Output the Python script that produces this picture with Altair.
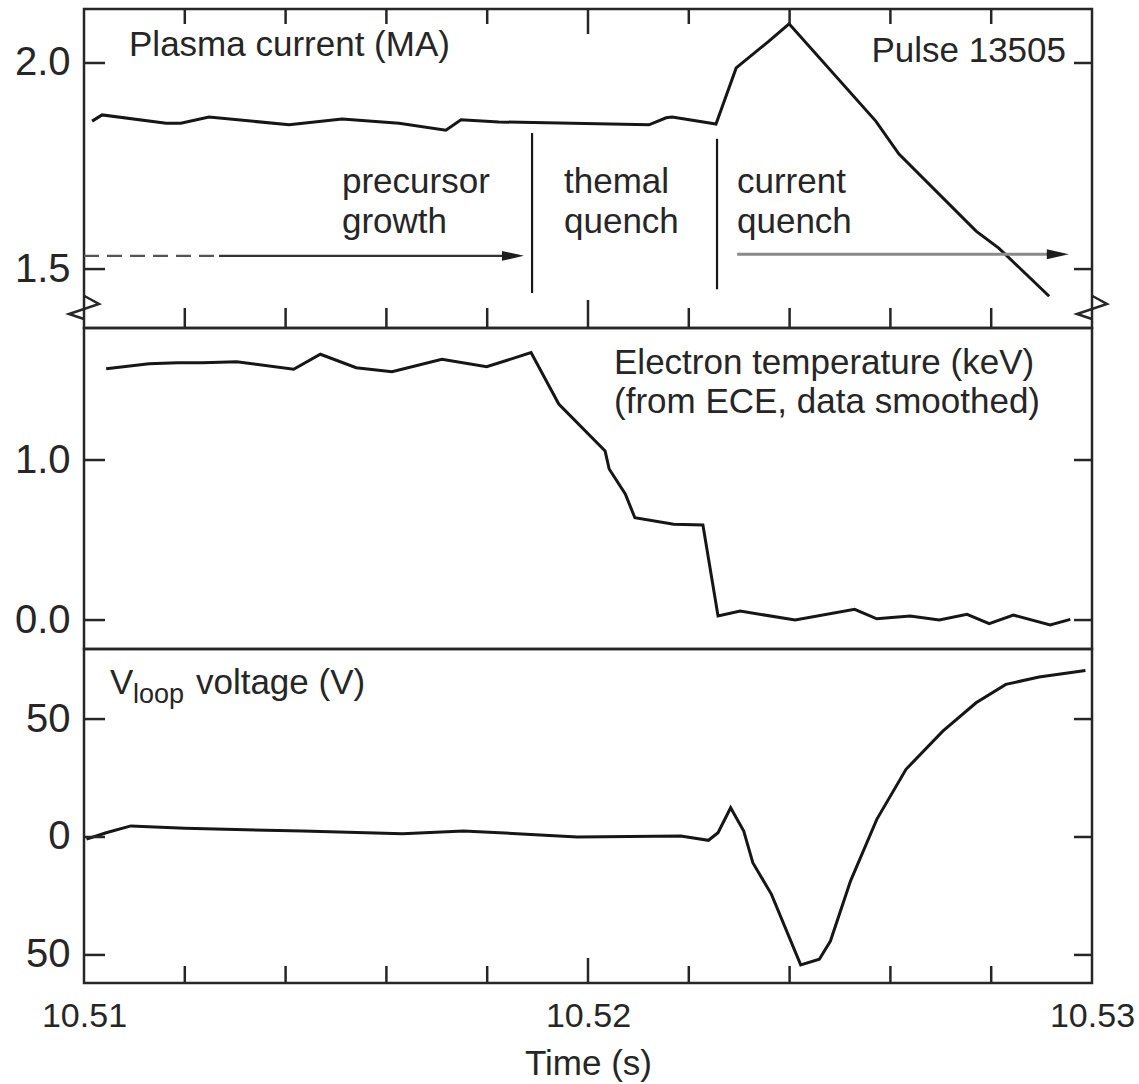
import altair as alt
import pandas as pd

# ---------------- data ----------------
# Plasma current (MA)
ip_time = [10.51016, 10.51036, 10.51163, 10.51192, 10.51248, 10.51407, 10.51512,
           10.51625, 10.51718, 10.51748, 10.51823, 10.52121, 10.52155, 10.52167,
           10.52254, 10.52294, 10.52359, 10.52399, 10.52571, 10.52617, 10.52770,
           10.52815, 10.52915]
ip_value = [1.859, 1.874, 1.854, 1.854, 1.869, 1.850, 1.864,
            1.854, 1.837, 1.862, 1.857, 1.850, 1.867, 1.869,
            1.852, 1.988, 2.053, 2.095, 1.859, 1.779, 1.592,
            1.551, 1.434]

# Electron temperature (keV)
te_time = [10.51044, 10.51129, 10.51186, 10.51235, 10.51303, 10.51416, 10.51469,
           10.51540, 10.51611, 10.51710, 10.51799, 10.51887, 10.51942, 10.52034,
           10.52042, 10.52074, 10.52093, 10.52170, 10.52228, 10.52258, 10.52302,
           10.52411, 10.52529, 10.52573, 10.52639, 10.52697, 10.52752, 10.52796,
           10.52844, 10.52917, 10.52957]
te_value = [1.571, 1.602, 1.608, 1.608, 1.614, 1.567, 1.661,
            1.577, 1.552, 1.629, 1.583, 1.671, 1.35, 1.056,
            0.944, 0.788, 0.639, 0.598, 0.594, 0.025, 0.056,
            0.0, 0.067, 0.008, 0.025, 0.0, 0.036, -0.023,
            0.031, -0.031, 0.004]

# V_loop voltage (V)
vl_time = [10.51005, 10.51044, 10.51093, 10.51200, 10.51434, 10.51632, 10.51753,
           10.51859, 10.51942, 10.51979, 10.52184, 10.52239, 10.52258, 10.52283,
           10.52309, 10.52327, 10.52364, 10.52422, 10.52459, 10.52481, 10.52521,
           10.52573, 10.52631, 10.52704, 10.52770, 10.52829, 10.52895, 10.52987]
vl_value = [-0.9, 1.8, 4.7, 3.7, 2.5, 1.4, 2.5,
            1.4, 0.4, 0.0, 0.4, -1.4, 1.8, 12.4,
            2.5, -10.9, -24.3, -54.2, -51.8, -44.1, -18.6,
            7.5, 28.7, 44.9, 56.9, 64.7, 67.8, 70.6]

# axes
x_domain = [10.51, 10.53]
x_label_values = [10.51, 10.52, 10.53]
x_minor_ticks = [10.512, 10.514, 10.516, 10.518, 10.522, 10.524, 10.526, 10.528]
x_major_ticks = [10.52]
ip_domain = [1.357, 2.131]
ip_ticks = [1.5, 2.0]
te_domain = [-0.181, 1.825]
te_ticks = [0.0, 1.0]
vl_domain = [-61.9, 79.7]
vl_ticks = [-50, 0, 50]

# phase markers / arrows in panel 1
phase_time = [10.51889, 10.52256]
phase_top = [1.830, 1.816]
phase_bottom = [1.442, 1.451]
arrow_dash_start, arrow_dash_end = 10.51, 10.51268
arrow1_end, arrow1_tip, arrow1_level = 10.51863, 10.51873, 1.532
arrow2_start, arrow2_end, arrow2_tip, arrow2_level = 10.52296, 10.52939, 10.52954, 1.536
break_level = 1.408

# annotation texts
p1_labels = ["Plasma current (MA)", "precursor", "growth", "themal", "quench", "current", "quench"]
p1_label_t = [10.510893, 10.515119, 10.515119, 10.519524, 10.519524, 10.522956, 10.522956]
p1_label_v = [2.017, 1.6845, 1.5874, 1.6845, 1.5874, 1.6845, 1.5874]
pulse_label, pulse_t, pulse_v = "Pulse 13505", 10.529484, 2.002
p2_labels = ["Electron temperature (keV)", "(from ECE, data smoothed)"]
p2_label_t = [10.520516, 10.520516]
p2_label_v = [1.5375, 1.294]
p3_big_labels = ["V", "voltage (V)"]
p3_big_t = [10.510516, 10.512221]
p3_big_v = [60.6, 60.6]
p3_sub_label, p3_sub_t, p3_sub_v = "loop", 10.510972, 56.8

# ---------------- styling ----------------
W = 1008
H1, H2, H3 = 319, 321, 334
FONT = "Liberation Sans"
INK = "#262626"
LINE = "#161616"

x_scale = alt.Scale(domain=x_domain, nice=False, zero=False)


def y_axis(values, fmt=None, expr=None):
    kw = dict(values=values, ticks=False, domain=False, grid=False, title=None,
              labelFont=FONT, labelFontSize=40, labelColor=INK, labelPadding=14,
              minExtent=82, maxExtent=82)
    if fmt:
        kw["format"] = fmt
    if expr:
        kw["labelExpr"] = expr
    return alt.Axis(**kw)


def tick_layers(xe, ye, yticks, height, top=None, bottom=None):
    """Inward ticks drawn through the scales."""
    layers = []
    ydf = pd.DataFrame({"v": yticks})
    layers.append(alt.Chart(ydf).mark_rule(color=INK, strokeWidth=2.5).encode(
        y=ye, x=alt.value(0), x2=alt.value(21)))
    layers.append(alt.Chart(ydf).mark_rule(color=INK, strokeWidth=2.5).encode(
        y=ye, x=alt.value(W - 18), x2=alt.value(W)))
    mdf = pd.DataFrame({"t": x_minor_ticks})
    Mdf = pd.DataFrame({"t": x_major_ticks})
    if top:
        lmin, lmaj = top
        layers.append(alt.Chart(mdf).mark_rule(color=INK, strokeWidth=2.5).encode(
            x=xe, y=alt.value(0), y2=alt.value(lmin)))
        layers.append(alt.Chart(Mdf).mark_rule(color=INK, strokeWidth=2.5).encode(
            x=xe, y=alt.value(0), y2=alt.value(lmaj)))
    if bottom:
        lmin, lmaj = bottom
        layers.append(alt.Chart(mdf).mark_rule(color=INK, strokeWidth=2.5).encode(
            x=xe, y=alt.value(height - lmin), y2=alt.value(height)))
        layers.append(alt.Chart(Mdf).mark_rule(color=INK, strokeWidth=2.5).encode(
            x=xe, y=alt.value(height - lmaj), y2=alt.value(height)))
    return layers


def text_layer(df, xe, ye, size=35, align="left"):
    return alt.Chart(df).mark_text(align=align, baseline="alphabetic", font=FONT,
                                   fontSize=size, color=INK).encode(
        x=xe, y=ye, text="label:N")


ARROW = "M0,0L-2,-0.45L-2,0.45Z"
ZIG = "M0,-0.75L1,-0.2L-1,0.47L0,0.8"

# ---------------- panel 1 ----------------
xe = alt.X("t:Q", scale=x_scale, axis=None)
ye1 = alt.Y("v:Q", scale=alt.Scale(domain=ip_domain, nice=False, zero=False),
            axis=y_axis(ip_ticks, fmt=".1f"))

ip_df = pd.DataFrame({"t": ip_time, "v": ip_value})
p1 = [alt.Chart(ip_df).mark_line(color=LINE, strokeWidth=3).encode(x=xe, y=ye1)]
phase_df = pd.DataFrame({"t": phase_time, "v": phase_top, "v2": phase_bottom})
p1.append(alt.Chart(phase_df).mark_rule(color=LINE, strokeWidth=2.2).encode(
    x=xe, y=ye1, y2="v2:Q"))
dash_df = pd.DataFrame({"t": [arrow_dash_start], "t2": [arrow_dash_end], "v": [arrow1_level]})
p1.append(alt.Chart(dash_df).mark_rule(color="#555555", strokeWidth=2.2, strokeDash=[15, 8]).encode(
    x=xe, x2="t2:Q", y=ye1))
a1_df = pd.DataFrame({"t": [arrow_dash_end], "t2": [arrow1_end], "v": [arrow1_level]})
p1.append(alt.Chart(a1_df).mark_rule(color="#333333", strokeWidth=2.2).encode(
    x=xe, x2="t2:Q", y=ye1))
a2_df = pd.DataFrame({"t": [arrow2_start], "t2": [arrow2_end], "v": [arrow2_level]})
p1.append(alt.Chart(a2_df).mark_rule(color="#8a8a8a", strokeWidth=3).encode(
    x=xe, x2="t2:Q", y=ye1))
heads_df = pd.DataFrame({"t": [arrow1_tip, arrow2_tip], "v": [arrow1_level, arrow2_level]})
p1.append(alt.Chart(heads_df).mark_point(shape=ARROW, size=484, filled=True, color="#1e1e1e",
                                         opacity=1).encode(x=xe, y=ye1))
brk_df = pd.DataFrame({"v": [break_level]})
p1.append(alt.Chart(brk_df).mark_point(shape=ZIG, size=900, filled=False, color=INK,
                                       strokeWidth=2.5, opacity=1).encode(
    x=alt.value(0), y=ye1))
p1.append(alt.Chart(brk_df).mark_point(shape=ZIG, size=900, filled=False, color=INK,
                                       strokeWidth=2.5, opacity=1).encode(
    x=alt.value(W), y=ye1))
p1.append(text_layer(pd.DataFrame({"t": p1_label_t, "v": p1_label_v, "label": p1_labels}), xe, ye1))
p1.append(text_layer(pd.DataFrame({"t": [pulse_t], "v": [pulse_v], "label": [pulse_label]}),
                     xe, ye1, size=35, align="right"))
p1 += tick_layers(xe, ye1, ip_ticks, H1, top=(15, 25), bottom=(20, 28))
panel1 = alt.layer(*p1).properties(width=W, height=H1)

# ---------------- panel 2 ----------------
ye2 = alt.Y("v:Q", scale=alt.Scale(domain=te_domain, nice=False, zero=False),
            axis=y_axis(te_ticks, fmt=".1f"))
te_df = pd.DataFrame({"t": te_time, "v": te_value})
p2 = [alt.Chart(te_df).mark_line(color=LINE, strokeWidth=3).encode(x=xe, y=ye2)]
p2.append(text_layer(pd.DataFrame({"t": p2_label_t, "v": p2_label_v, "label": p2_labels}), xe, ye2))
p2 += tick_layers(xe, ye2, te_ticks, H2)
panel2 = alt.layer(*p2).properties(width=W, height=H2)

# ---------------- panel 3 ----------------
xe3 = alt.X("t:Q", scale=x_scale,
            axis=alt.Axis(values=x_label_values, format=".2f", ticks=False, domain=False,
                          grid=False, labelFlush=False, labelOverlap=False,
                          labelFont=FONT, labelFontSize=34, labelColor=INK, labelPadding=16,
                          title="Time (s)", titleFont=FONT, titleFontSize=35,
                          titleFontWeight="normal", titleColor=INK, titlePadding=13))
ye3 = alt.Y("v:Q", scale=alt.Scale(domain=vl_domain, nice=False, zero=False),
            axis=y_axis(vl_ticks, expr="format(abs(datum.value), 'd')"))
vl_df = pd.DataFrame({"t": vl_time, "v": vl_value})
p3 = [alt.Chart(vl_df).mark_line(color=LINE, strokeWidth=3).encode(x=xe3, y=ye3)]
p3.append(text_layer(pd.DataFrame({"t": p3_big_t, "v": p3_big_v, "label": p3_big_labels}), xe3, ye3))
p3.append(text_layer(pd.DataFrame({"t": [p3_sub_t], "v": [p3_sub_v], "label": [p3_sub_label]}),
                     xe3, ye3, size=27))
p3 += tick_layers(xe3, ye3, vl_ticks, H3, bottom=(17, 25))
panel3 = alt.layer(*p3).properties(width=W, height=H3)

chart = alt.vconcat(panel1, panel2, panel3, spacing=0, bounds="flush").properties(
    padding={"left": 0, "top": 6, "right": 0, "bottom": 0},
    background="white",
).configure(
    font=FONT,
    view=alt.ViewConfig(stroke=INK, strokeWidth=2.5),
)

chart.save("out.html", embed_options={"renderer": "svg", "actions": False})
